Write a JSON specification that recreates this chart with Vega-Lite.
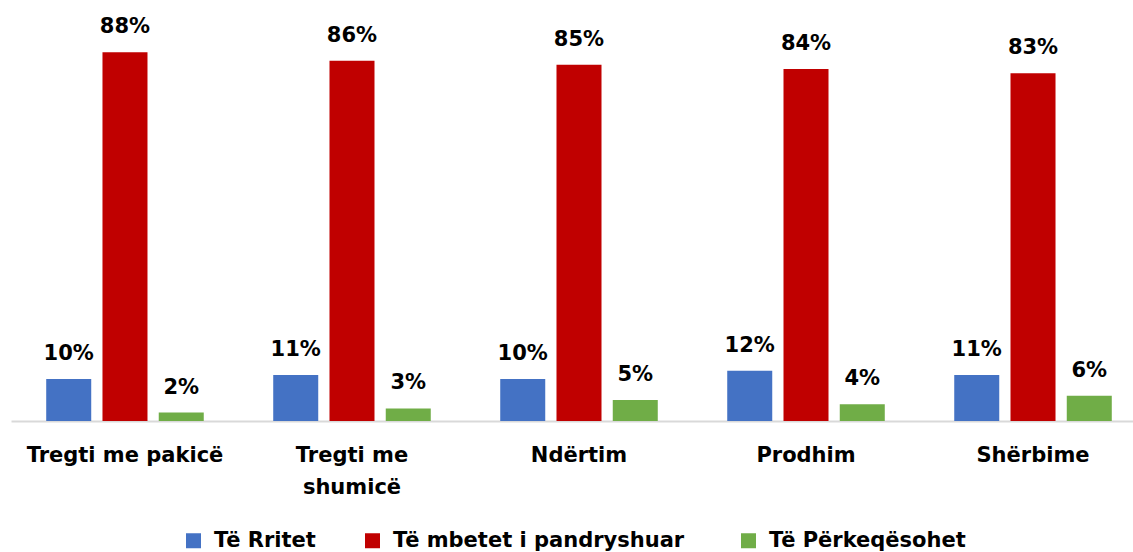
{
  "$schema": "https://vega.github.io/schema/vega-lite/v6.json",
  "width": 1122,
  "height": 419,
  "autosize": {"type": "none"},
  "padding": {"left": 11, "top": 2, "right": 0, "bottom": 131},
  "background": "white",
  "config": {"view": {"stroke": null}, "font": "DejaVu Sans"},
  "data": {
    "values": [
      {"sektori": "Tregti me pakicë", "pritja": "Të Rritet", "vlera": 0.10},
      {"sektori": "Tregti me pakicë", "pritja": "Të mbetet  i pandryshuar", "vlera": 0.88},
      {"sektori": "Tregti me pakicë", "pritja": "Të Përkeqësohet", "vlera": 0.02},
      {"sektori": "Tregti me shumicë", "pritja": "Të Rritet", "vlera": 0.11},
      {"sektori": "Tregti me shumicë", "pritja": "Të mbetet  i pandryshuar", "vlera": 0.86},
      {"sektori": "Tregti me shumicë", "pritja": "Të Përkeqësohet", "vlera": 0.03},
      {"sektori": "Ndërtim", "pritja": "Të Rritet", "vlera": 0.10},
      {"sektori": "Ndërtim", "pritja": "Të mbetet  i pandryshuar", "vlera": 0.85},
      {"sektori": "Ndërtim", "pritja": "Të Përkeqësohet", "vlera": 0.05},
      {"sektori": "Prodhim", "pritja": "Të Rritet", "vlera": 0.12},
      {"sektori": "Prodhim", "pritja": "Të mbetet  i pandryshuar", "vlera": 0.84},
      {"sektori": "Prodhim", "pritja": "Të Përkeqësohet", "vlera": 0.04},
      {"sektori": "Shërbime", "pritja": "Të Rritet", "vlera": 0.11},
      {"sektori": "Shërbime", "pritja": "Të mbetet  i pandryshuar", "vlera": 0.83},
      {"sektori": "Shërbime", "pritja": "Të Përkeqësohet", "vlera": 0.06}
    ]
  },
  "encoding": {
    "x": {
      "field": "sektori",
      "type": "nominal",
      "sort": null,
      "scale": {"paddingInner": 0.306, "paddingOuter": 0.1243, "align": 0.624},
      "axis": {
        "title": null,
        "labelAngle": 0,
        "labelFont": "DejaVu Sans",
        "labelFontWeight": "bold",
        "labelFontSize": 21,
        "labelColor": "#000000",
        "labelPadding": 23,
        "labelLineHeight": 32,
        "labelLimit": 0,
        "labelOverlap": false,
        "labelExpr": "datum.label == 'Tregti me shumicë' ? ['Tregti me', 'shumicë'] : datum.label",
        "ticks": false,
        "grid": false,
        "domainColor": "#d9d9d9",
        "domainWidth": 2
      }
    },
    "xOffset": {
      "field": "pritja",
      "type": "nominal",
      "sort": null,
      "scale": {"paddingInner": 0.2, "paddingOuter": 0}
    },
    "y": {
      "field": "vlera",
      "type": "quantitative",
      "scale": {"domain": [0, 1], "nice": false},
      "axis": null
    }
  },
  "layer": [
    {
      "mark": {"type": "bar"},
      "encoding": {
        "color": {
          "field": "pritja",
          "type": "nominal",
          "sort": null,
          "scale": {
            "domain": ["Të Rritet", "Të mbetet  i pandryshuar", "Të Përkeqësohet"],
            "range": ["#4472C4", "#C00000", "#70AD47"]
          },
          "legend": {
            "title": null,
            "orient": "none",
            "direction": "horizontal",
            "legendX": 172,
            "legendY": 528,
            "padding": 0,
            "symbolType": "square",
            "symbolSize": 225,
            "symbolStrokeWidth": 0,
            "labelFont": "DejaVu Sans",
            "labelFontWeight": "bold",
            "labelFontSize": 21,
            "labelColor": "#000000",
            "labelOffset": 10,
            "columnPadding": 46,
            "labelLimit": 0
          }
        }
      }
    },
    {
      "mark": {
        "type": "text",
        "baseline": "alphabetic",
        "dy": -19,
        "font": "DejaVu Sans",
        "fontWeight": "bold",
        "fontSize": 21,
        "color": "#000000"
      },
      "encoding": {
        "text": {"field": "vlera", "type": "quantitative", "format": ".0%"}
      }
    }
  ]
}
